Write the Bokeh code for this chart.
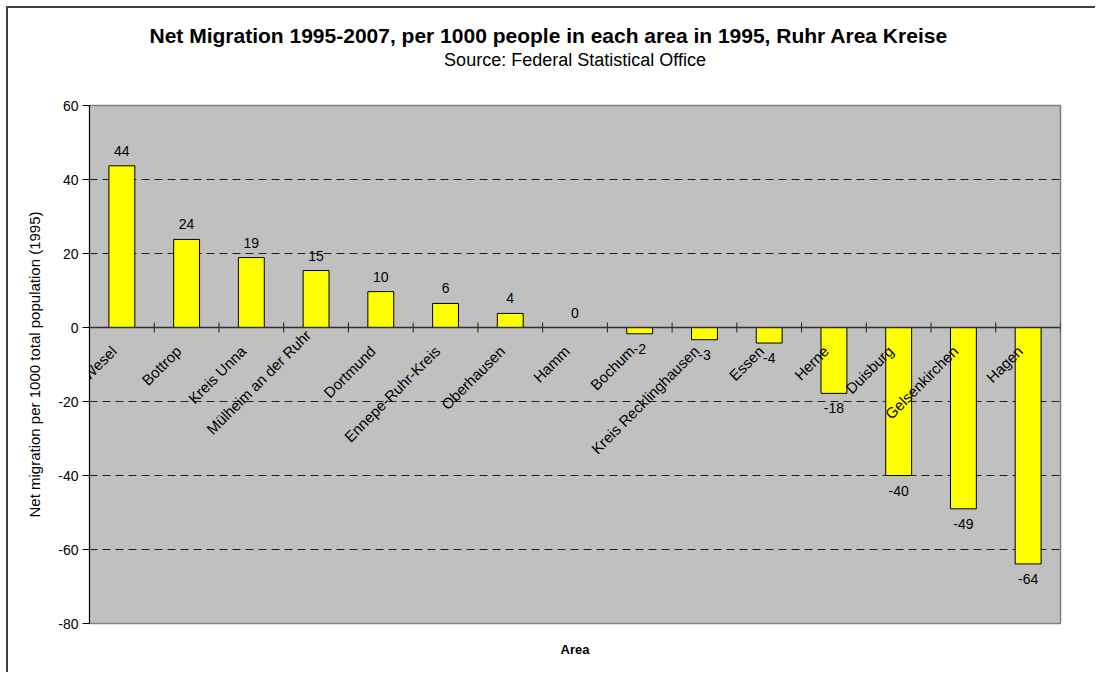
import numpy as np
from bokeh.plotting import figure
from bokeh.models import ColumnDataSource, Span, Title, FixedTicker, Label
from bokeh.transform import dodge
from bokeh.core.properties import value
from bokeh.embed import file_html
from bokeh.resources import INLINE

# ---- data ----
areas = ["Kreis Wesel", "Bottrop", "Kreis Unna", "Mülheim an der Ruhr", "Dortmund",
         "Ennepe-Ruhr-Kreis", "Oberhausen", "Hamm", "Bochum", "Kreis Recklinghausen",
         "Essen", "Herne", "Duisburg", "Gelsenkirchen", "Hagen"]
net_migration = [43.7, 23.8, 18.9, 15.4, 9.7, 6.5, 3.8, 0.0, -1.7, -3.3,
                 -4.2, -17.8, -40.0, -49.0, -63.9]
y_ticks = [-80, -60, -40, -20, 0, 20, 40, 60]

FONT = "Liberation Sans"

# layout-only: how far (px) each category label sits below the zero line
label_dy = [21, 21, 21, 5, 21, 21, 21, 21, 21, 21, 21, 21, 21, 21, 21]

p = figure(x_range=areas, y_range=(-80, 60),
           frame_width=971, frame_height=518,
           min_border_left=81, min_border_right=35,
           min_border_top=97, min_border_bottom=49,
           output_backend="svg", toolbar_location=None)

p.styles = {"border-top": "2px solid #404040", "border-left": "2px solid #404040",
            "margin-top": "6px", "margin-left": "6px"}

p.background_fill_color = "#C0C0C0"
p.border_fill_color = "white"
p.outline_line_color = "#808080"
p.outline_line_width = 1.5

# titles (added from the frame outward)
p.add_layout(Title(text=" ", text_font=FONT, text_font_size="10px", standoff=22), "above")
p.add_layout(Title(text="Source: Federal Statistical Office", align="center",
                   text_font=FONT, text_font_size="18px", text_font_style="normal",
                   text_color="black", standoff=2), "above")
p.add_layout(Title(text="Net Migration 1995-2007, per 1000 people in each area in 1995, Ruhr Area Kreise",
                   align="left", offset=60, text_font=FONT, text_font_size="21px",
                   text_font_style="bold", text_color="black", standoff=0), "above")

# y axis
p.yaxis.ticker = FixedTicker(ticks=y_ticks)
p.yaxis.major_label_overrides = {t: str(t) for t in y_ticks}
p.yaxis.minor_tick_line_color = None
p.yaxis.major_tick_in = 0
p.yaxis.major_tick_out = 7
p.yaxis.axis_line_color = "black"
p.yaxis.major_tick_line_color = "black"
p.yaxis.major_label_text_font = FONT
p.yaxis.major_label_text_font_size = "14px"
p.yaxis.major_label_text_color = "black"
p.yaxis.major_label_standoff = 4
p.yaxis.axis_label = "Net migration per 1000 total population (1995)"
p.yaxis.axis_label_text_font = FONT
p.yaxis.axis_label_text_font_size = "15px"
p.yaxis.axis_label_text_font_style = "normal"
p.yaxis.axis_label_text_color = "black"
p.yaxis.axis_label_standoff = 12

# x axis: only the title
p.xaxis.axis_label = "Area"
p.xaxis.axis_label_text_font = FONT
p.xaxis.axis_label_text_font_size = "13px"
p.xaxis.axis_label_text_font_style = "bold"
p.xaxis.axis_label_text_color = "black"
p.xaxis.axis_line_color = None
p.xaxis.major_tick_line_color = None
p.xaxis.minor_tick_line_color = None
p.xaxis.major_tick_out = 0
p.xaxis.major_label_text_font_size = "0px"
p.xaxis.major_label_standoff = 0
p.xaxis.axis_label_standoff = 18

# grid
p.xgrid.grid_line_color = None
p.ygrid.ticker = FixedTicker(ticks=y_ticks)
p.ygrid.grid_line_color = "#202020"
p.ygrid.grid_line_dash = "8 5"
p.ygrid.grid_line_width = 1

src = ColumnDataSource(dict(area=areas, val=net_migration, zero=[0] * len(areas)))

p.vbar(x="area", top="val", bottom=0, width=0.4, source=src,
       fill_color="#FFFF00", line_color="black", line_width=1)

# zero (category) axis line and ticks
p.add_layout(Span(location=0, dimension="width", line_color="#303030", line_width=1.5))
p.scatter(x=dodge("area", 0.5, range=p.x_range), y="zero", source=src,
          marker="dash", angle=np.pi / 2, size=10, line_color="#202020", line_width=1)

# category labels; x is the factor's synthetic coordinate (centre = i + 0.5)
for i, (name, dy) in enumerate(zip(areas, label_dy)):
    p.add_layout(Label(x=i + 0.5, y=0, text=name, angle=np.pi / 4,
                       x_offset=-8, y_offset=-dy, level="overlay",
                       text_align="right", text_baseline="alphabetic",
                       text_font=FONT, text_font_size="15px", text_color="black"))

# data labels
pos = [i for i, v in enumerate(net_migration) if v >= 0]
neg = [i for i, v in enumerate(net_migration) if v < 0]
for idx, off in ((pos, -15), (neg, 15)):
    s = ColumnDataSource(dict(area=[areas[i] for i in idx],
                              val=[net_migration[i] for i in idx],
                              lab=[f"{round(net_migration[i]):d}" for i in idx]))
    p.text(x="area", y="val", text="lab", source=s, y_offset=off,
           text_align="center", text_baseline="middle",
           text_font=value(FONT), text_font_size="14px", text_color="black")

open("out.html", "w").write(file_html(p, INLINE))
